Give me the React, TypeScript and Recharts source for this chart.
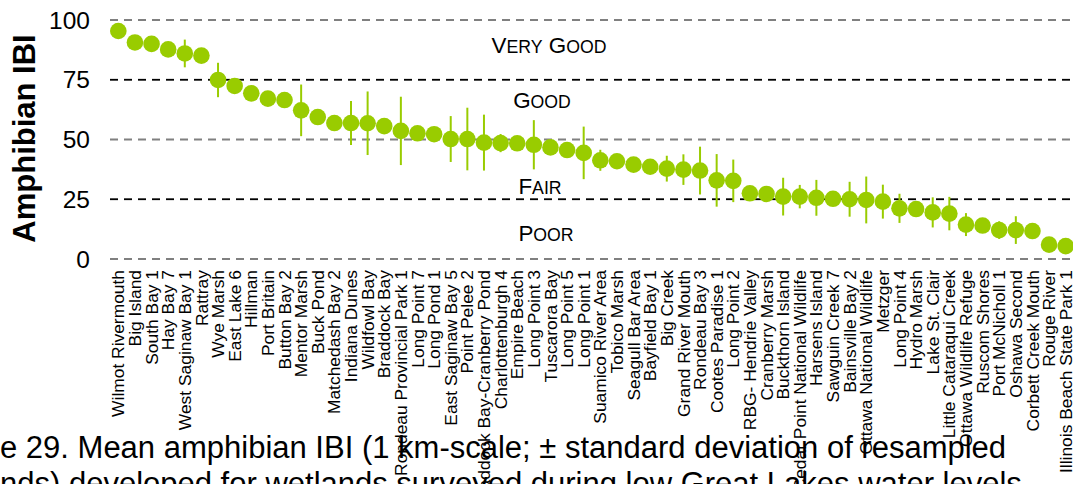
import React from "react";
import { ComposedChart, Line, ErrorBar, XAxis, YAxis, CartesianGrid, ReferenceLine } from "recharts";

const SITES = [
  "Wilmot Rivermouth", "Big Island", "South Bay 1", "Hay Bay 7", "West Saginaw Bay 1", "Rattray",
  "Wye Marsh", "East Lake 6", "Hillman", "Port Britain", "Button Bay 2", "Mentor Marsh", "Buck Pond",
  "Matchedash Bay 2", "Indiana Dunes", "Wildfowl Bay", "Braddock Bay", "Rondeau Provincial Park 1",
  "Long Point 7", "Long Pond 1", "East Saginaw Bay 5", "Point Pelee 2", "Braddock Bay-Cranberry Pond",
  "Charlottenburgh 4", "Empire Beach", "Long Point 3", "Tuscarora Bay", "Long Point 5", "Long Point 1",
  "Suamico River Area", "Tobico Marsh", "Seagull Bar Area", "Bayfield Bay 1", "Big Creek",
  "Grand River Mouth", "Rondeau Bay 3", "Cootes Paradise 1", "Long Point 2", "RBG- Hendrie Valley",
  "Cranberry Marsh", "Buckthorn Island", "Cedar Point National Wildlife", "Harsens Island",
  "Sawguin Creek 7", "Bainsville Bay 2", "Ottawa National Wildlife", "Metzger", "Long Point 4",
  "Hydro Marsh", "Lake St. Clair", "Little Cataraqui Creek", "Ottawa Wildlife Refuge", "Ruscom Shores",
  "Port McNicholl 1", "Oshawa Second", "Corbett Creek Mouth", "Rouge River", "Illinois Beach State Park 1",
];

const IBI = [
  95.4, 90.6, 90.0, 87.7, 86.0, 85.1, 74.9, 72.4, 69.3, 67.1, 66.5, 62.2, 59.4, 56.9, 56.9, 56.8,
  55.6, 53.6, 52.6, 52.2, 50.2, 50.2, 48.7, 48.5, 48.4, 47.8, 46.7, 45.6, 44.4, 41.3, 40.9, 39.5,
  38.6, 37.8, 37.4, 37.0, 32.9, 32.7, 27.5, 27.2, 26.1, 26.1, 25.6, 25.2, 25.0, 24.7, 24.0, 21.2,
  20.9, 19.5, 19.0, 14.4, 14.0, 12.1, 12.1, 11.7, 6.0, 5.4,
];

const SD = [
  0, 0, 0, 0, 5.8, 0, 7.2, 0, 0, 0, 0, 10.8, 0, 0, 9.2, 13.3,
  0, 14.3, 0, 0, 9.6, 13.1, 11.7, 3.8, 0, 10.3, 0, 0, 11, 4.4, 0, 0,
  0, 5.4, 6.4, 10, 11, 8.9, 0, 0, 7.9, 4.9, 7.5, 0, 7.3, 9.8, 7.1, 6.1,
  0, 6.3, 7.0, 4.8, 0, 3.7, 5.8, 0, 0, 0,
];

const Y_TICKS = [0, 25, 50, 75, 100];
const CLASSES = ["Very Good", "Good", "Fair", "Poor"];
const CAPTION = [
  "e 29. Mean amphibian IBI (1 km-scale; \u00b1 standard deviation of resampled",
  "nds) developed for wetlands surveyed during low Great Lakes water levels",
];

const FONT = "Arial, 'Liberation Sans', sans-serif";
const GREEN = "#99CC00";

const data = SITES.map((site, i) => ({ site, ibi: IBI[i], sd: SD[i] }));

// where each class name sits (y in IBI units, x offset from plot centre)
const CLASS_POS = [
  { y: 86.1, dx: -43 },
  { y: 63.1, dx: -50 },
  { y: 27.2, dx: -52 },
  { y: 7.7, dx: -46 },
];

function SmallCaps({ text, x, y }: { text: string; x: number; y: number }) {
  const words = text.split(" ");
  return (
    <text x={x} y={y} textAnchor="middle" fontFamily={FONT} fill="#000">
      {words.map((w, i) => (
        <React.Fragment key={i}>
          <tspan fontSize={22.4}>{(i > 0 ? " " : "") + w[0].toUpperCase()}</tspan>
          <tspan fontSize={17.7}>{w.slice(1).toUpperCase()}</tspan>
        </React.Fragment>
      ))}
    </text>
  );
}

function SiteTick(props: any) {
  const { x, y, payload } = props;
  return (
    <text
      transform={`translate(${x},${y}) rotate(-90)`}
      textAnchor="end"
      dy="0.35em"
      fontSize={17.4}
      fontFamily={FONT}
      fill="#000"
    >
      {payload.value}
    </text>
  );
}

function YLabel(props: any) {
  const { viewBox } = props;
  const cx = viewBox.x + 25;
  const cy = viewBox.y + viewBox.height / 2 - 1;
  return (
    <text
      transform={`translate(${cx},${cy}) rotate(-90)`}
      textAnchor="middle"
      fontSize={31}
      fontWeight="bold"
      fontFamily={FONT}
      fill="#000"
    >
      Amphibian IBI
    </text>
  );
}

export default function App() {
  return (
    <div style={{ position: "fixed", left: 0, top: 0, width: 1073, height: 484, overflow: "hidden", background: "#fff" }}>
      <svg width={1073} height={484} style={{ position: "absolute", left: 0, top: 0 }}>
        {CAPTION.map((line, i) => (
          <text key={i} x={0} y={458 + i * 36} fontSize={31} fontFamily={FONT} fill="#000">
            {line}
          </text>
        ))}
      </svg>
      <div style={{ position: "absolute", left: 0, top: 0 }}>
        <ComposedChart width={1074} height={484} data={data} margin={{ top: 20, right: 0, left: 10, bottom: 0 }}>
          <CartesianGrid vertical={false} stroke="#808080" strokeWidth={2} strokeDasharray="8 6" />
          <ReferenceLine y={75} stroke="#000" strokeWidth={1.5} strokeDasharray="8 6" />
          <ReferenceLine y={25} stroke="#000" strokeWidth={1.5} strokeDasharray="8 6" />
          {CLASSES.map((c, i) => (
            <ReferenceLine
              key={c}
              y={CLASS_POS[i].y}
              stroke="none"
              label={(p: any) => (
                <SmallCaps text={c} x={p.viewBox.x + p.viewBox.width / 2 + CLASS_POS[i].dx} y={p.viewBox.y} />
              )}
            />
          ))}
          <XAxis
            dataKey="site"
            scale="band"
            interval={0}
            tickLine={false}
            axisLine={false}
            height={225}
            tickMargin={5}
            tick={<SiteTick />}
          />
          <YAxis
            domain={[0, 100]}
            ticks={Y_TICKS}
            width={100}
            tickLine={false}
            axisLine={false}
            tickMargin={14}
            tick={{ fontSize: 24.5, fill: "#000", fontFamily: FONT }}
            label={<YLabel />}
          />
          <Line
            dataKey="ibi"
            stroke="none"
            isAnimationActive={false}
            dot={{ r: 8.3, fill: GREEN, stroke: "none" }}
            activeDot={false}
          >
            <ErrorBar dataKey="sd" width={0} stroke={GREEN} strokeWidth={2} direction="y" />
          </Line>
        </ComposedChart>
      </div>
    </div>
  );
}
